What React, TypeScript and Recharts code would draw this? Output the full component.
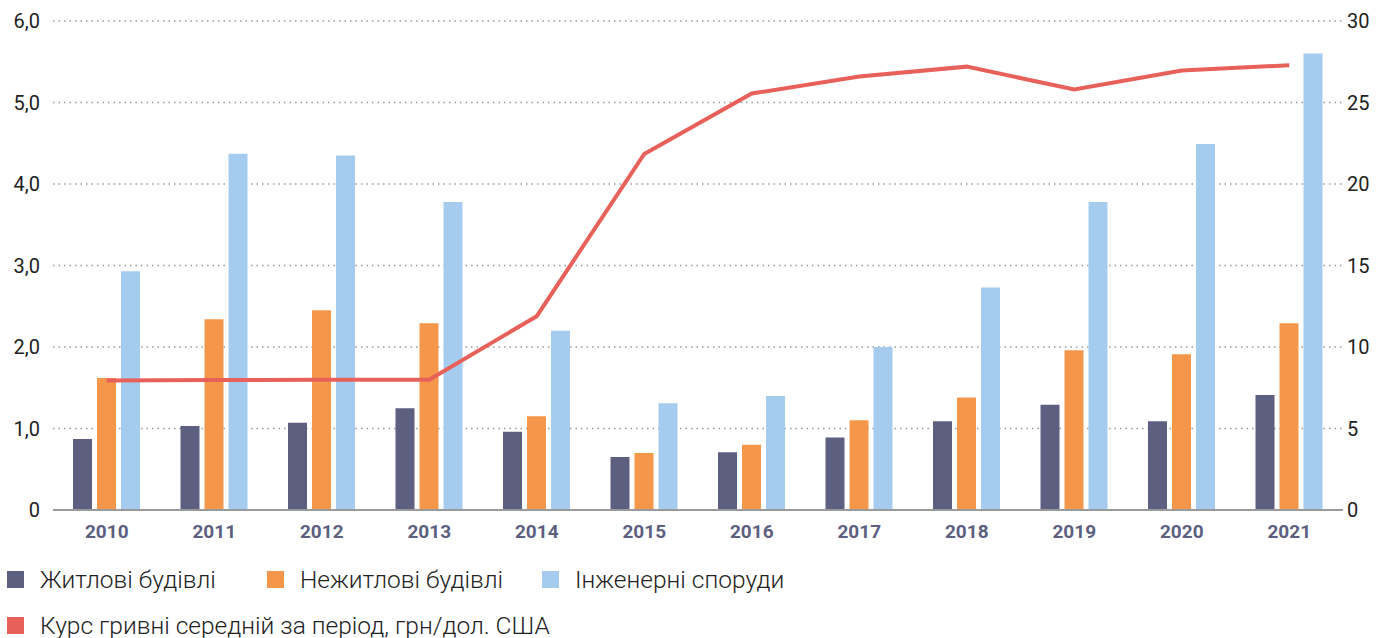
import { ComposedChart, Bar, Line, XAxis, YAxis, CartesianGrid } from 'recharts';

const years = ['2010', '2011', '2012', '2013', '2014', '2015', '2016', '2017', '2018', '2019', '2020', '2021'];
const residential = [0.87, 1.03, 1.07, 1.25, 0.96, 0.65, 0.71, 0.89, 1.09, 1.29, 1.09, 1.41];
const nonResidential = [1.62, 2.34, 2.45, 2.29, 1.15, 0.7, 0.8, 1.1, 1.38, 1.96, 1.91, 2.29];
const engineering = [2.93, 4.37, 4.35, 3.78, 2.2, 1.31, 1.4, 2.0, 2.73, 3.78, 4.49, 5.6];
const exchangeRate = [7.94, 7.97, 7.99, 7.99, 11.89, 21.84, 25.55, 26.6, 27.2, 25.8, 26.96, 27.29];
const leftTicks = [0, 1, 2, 3, 4, 5, 6];
const rightTicks = [0, 5, 10, 15, 20, 25, 30];

const seriesNames = ['Житлові будівлі', 'Нежитлові будівлі', 'Інженерні споруди', 'Курс гривні середній за період, грн/дол. США'];
const colors = ['#5c5f80', '#f4974a', '#a5ccee', '#e8605a'];

const data = years.map((year, i) => ({
  year,
  residential: residential[i],
  nonResidential: nonResidential[i],
  engineering: engineering[i],
  rate: exchangeRate[i],
}));

const font = 'Roboto, "Noto Sans", sans-serif';

const LegendItem = ({ color, label, left, top }: { color: string; label: string; left: number; top: number }) => (
  <div style={{ position: 'absolute', left, top, display: 'flex', alignItems: 'center', whiteSpace: 'nowrap' }}>
    <div style={{ width: 17, height: 17, background: color, marginRight: 16 }} />
    <span style={{ fontSize: 24.5, fontWeight: 300, color: '#222' }}>{label}</span>
  </div>
);

export default function App() {
  return (
    <div style={{ position: 'absolute', left: 0, top: 0, width: 1384, height: 638, fontFamily: font, background: '#fff' }}>
      <ComposedChart
        width={1384}
        height={560}
        data={data}
        margin={{ top: 21, right: 0, bottom: 0, left: 0 }}
        barSize={19}
        barGap={5}
      >
        <CartesianGrid vertical={false} stroke="#999" strokeDasharray="1.5 4" strokeWidth={1.5} yAxisId="left" />
        <XAxis
          dataKey="year"
          height={50}
          axisLine={{ stroke: '#9a9a9a', strokeWidth: 2 }}
          tickLine={false}
          tick={{ fill: '#5c5f80', fontSize: 19, fontWeight: 700, fontFamily: font }}
          tickMargin={9}
        />
        <YAxis
          yAxisId="left"
          width={53}
          domain={[0, 6]}
          ticks={leftTicks}
          axisLine={false}
          tickLine={false}
          tickSize={0}
          tickMargin={13}
          tickFormatter={(v: number) => (v === 0 ? '0' : v.toFixed(1).replace('.', ','))}
          tick={{ fill: '#222', fontSize: 20, fontFamily: font }}
        />
        <YAxis
          yAxisId="right"
          orientation="right"
          width={41}
          domain={[0, 30]}
          ticks={rightTicks}
          axisLine={false}
          tickLine={false}
          tickSize={0}
          tickMargin={4}
          tick={{ fill: '#222', fontSize: 20, fontFamily: font }}
        />
        <Bar yAxisId="left" dataKey="residential" fill={colors[0]} isAnimationActive={false} />
        <Bar yAxisId="left" dataKey="nonResidential" fill={colors[1]} isAnimationActive={false} />
        <Bar yAxisId="left" dataKey="engineering" fill={colors[2]} isAnimationActive={false} />
        <Line
          yAxisId="right"
          dataKey="rate"
          stroke={colors[3]}
          strokeWidth={4}
          dot={false}
          type="linear"
          isAnimationActive={false}
        />
      </ComposedChart>
      <LegendItem color={colors[0]} label={seriesNames[0]} left={7} top={565} />
      <LegendItem color={colors[1]} label={seriesNames[1]} left={267} top={565} />
      <LegendItem color={colors[2]} label={seriesNames[2]} left={542} top={565} />
      <LegendItem color={colors[3]} label={seriesNames[3]} left={7} top={611} />
    </div>
  );
}
